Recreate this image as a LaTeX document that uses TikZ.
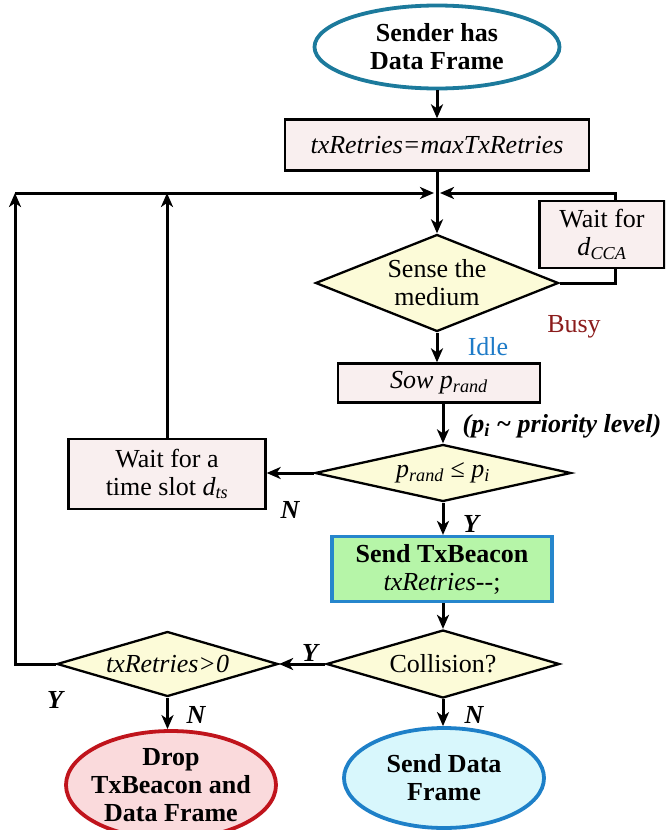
\documentclass[tikz,border=0pt]{standalone}
\usepackage{fontspec}
\setmainfont{Liberation Serif}
\usetikzlibrary{shapes.geometric,arrows.meta}
\definecolor{startc}{HTML}{1C7A9C}
\definecolor{boxpink}{HTML}{F9EFEF}
\definecolor{diay}{HTML}{FCFBD8}
\definecolor{sendg}{HTML}{B6F5A8}
\definecolor{sendb}{HTML}{2686CC}
\definecolor{dropr}{HTML}{C0141C}
\definecolor{dropf}{HTML}{FADADC}
\definecolor{sdb}{HTML}{1E80C8}
\definecolor{sdf}{HTML}{D8F7FC}
\definecolor{busyc}{HTML}{8B1C1C}
\definecolor{idlec}{HTML}{1E7BC8}
\begin{document}
\begin{tikzpicture}[x=1pt,y=-1pt,
  font=\fontsize{26}{28}\selectfont,
  line/.style={line width=3pt},
  arr/.style={line, -{Stealth[length=14pt,width=12pt,inset=4pt]}},
  box/.style={draw, line width=2.3pt, fill=boxpink, inner sep=0pt, align=center},
  dia/.style={diamond, draw, line width=2.3pt, fill=diay, inner sep=0pt, align=center},
  term/.style={ellipse, line width=3.8pt, inner sep=0pt, align=center, font=\fontsize{26}{28}\selectfont\bfseries},
  lab/.style={font=\fontsize{26}{28}\selectfont\bfseries\itshape}]
\clip (0,0) rectangle (665,830);
\fill[white] (0,0) rectangle (665,830);
% nodes
\node[term, draw=startc, fill=white, minimum width=245, minimum height=83] (start) at (437,47) {Sender has\\Data Frame};
\node[box, minimum width=304, minimum height=51, font=\fontsize{26}{28}\selectfont\itshape] (init) at (437,145) {txRetries=maxTxRetries};
\coordinate (j) at (437,193);
\coordinate (cx) at (615,193);
\coordinate (lx) at (15,193);
\node[dia, minimum width=243, minimum height=97, shape aspect=2.5] (sense) at (437,283) {Sense the\\medium};
\node[box, minimum width=125, minimum height=67] (waitcca) at (602,234.5) {Wait for\\\textit{d}\textsubscript{\textit{CCA}}};
\node[box, minimum width=202, minimum height=39] (sow) at (439,383) {\textit{Sow p}\textsubscript{\textit{rand}}};
\node[dia, minimum width=256, minimum height=57, shape aspect=4.5] (prio) at (443,473) {\textit{p}\textsubscript{\textit{rand}} ≤ \textit{p}\textsubscript{\textit{i}}};
\node[box, minimum width=197, minimum height=70] (waitts) at (167,474) {Wait for a\\time slot \textit{d}\textsubscript{\textit{ts}}};
\node[box, draw=sendb, fill=sendg, line width=3.2pt, minimum width=220, minimum height=65] (send) at (442,569) {\textbf{Send TxBeacon}\\\textit{txRetries}-{}-;};
\node[dia, minimum width=233, minimum height=68, shape aspect=3.4] (coll) at (443,664) {Collision?};
\node[dia, minimum width=221, minimum height=65, shape aspect=3.4, font=\fontsize{26}{28}\selectfont\itshape] (retry) at (167.5,664) {txRetries>0};
\node[term, draw=dropr, fill=dropf, inner xsep=-8pt, inner ysep=-4pt, minimum width=210, minimum height=108] (drop) at (171,785) {Drop\\TxBeacon and\\Data Frame};
\node[term, draw=sdb, fill=sdf, minimum width=200, minimum height=100] (sdata) at (444,778) {Send Data\\Frame};
% labels
\node[text=busyc] (busy) at (574,327) {Busy};
\node[text=idlec] (idle) at (488,347) {Idle};
\node[lab] (prl) at (562,426) {(p\textsubscript{i} \textasciitilde{} priority level)};
\node[lab] (n1) at (290,510) {N};
\node[lab] (y1) at (471,524) {Y};
\node[lab] (y2) at (310,653) {Y};
\node[lab] (y3) at (55,700) {Y};
\node[lab] (n2) at (196,715) {N};
\node[lab] (n3) at (474,715) {N};
% connectors
\draw[arr] (start) -- (init);
\draw[arr] (init) -- (sense);
\draw[line] (sense.east) -| (waitcca.south -| cx);
\draw[arr] (waitcca.north -| cx) |- ([xshift=3]j);
\draw[arr] (lx) -- ([xshift=-3]j);
\draw[arr] (sense.south) -- (sense.south |- sow.north);
\draw[arr] (sow.south -| prio.north) -- (prio.north);
\draw[arr] (prio.west) -- (waitts.east |- prio.west);
\draw[arr] (waitts.north) -- (waitts.north |- j);
\draw[arr] (prio.south) -- (prio.south |- send.north);
\draw[arr] (send.south -| coll.north) -- (coll.north);
\draw[arr] (coll.west) -- (retry.east);
\draw[arr] (retry.west) -| (lx);
\draw[arr] (retry.south) -- (retry.south |- drop.north);
\draw[arr] (coll.south) -- (coll.south |- sdata.north);
\end{tikzpicture}
\end{document}
